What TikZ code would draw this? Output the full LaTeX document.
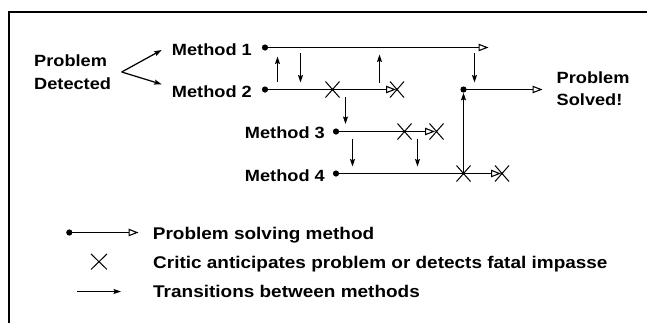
\documentclass[tikz,border=0pt]{standalone}
\usepackage{fontspec}
\setmainfont[FakeStretch=1.12]{Liberation Sans}
\usetikzlibrary{arrows.meta,shapes.misc}

\tikzset{
  lbl/.style={font=\fontsize{16.3}{22.6}\selectfont\bfseries, inner sep=0pt},
  legtxt/.style={font=\fontsize{17}{20}\selectfont\bfseries, inner sep=0pt, anchor=base west},
  methodline/.style={line width=1.4bp, -{Triangle[open, length=10bp, width=7.5bp, line width=1.1bp]}},
  trans/.style={line width=1.25bp, -{Stealth[length=7.5bp, width=5bp, inset=1.2bp]}},
  startdot/.style={circle, fill=black, inner sep=0pt, minimum size=6.2bp},
  critic/.style={cross out, draw, line width=1bp, minimum width=13bp, minimum height=15bp, inner sep=0pt},
}

\begin{document}
\begin{tikzpicture}[x=1bp, y=-1bp]
  \useasboundingbox (0,0) rectangle (647,323);

  % frame (top and left edges only)
  \coordinate (fr1) at (647,12);
  \coordinate (fr2) at (8.8,12);
  \coordinate (fr3) at (8.8,323);
  \draw[line width=2.4bp] (fr1) -- (fr2) -- (fr3);

  % starting point (base anchor sits on the last line)
  \node[lbl, anchor=base west, align=left] (detected) at (34,89.3) {Problem\\Detected};
  \coordinate (pdv) at (121.7,72);
  \coordinate (pdu) at (161.7,50);
  \coordinate (pdl) at (161.7,84.3);
  \draw[trans] (pdv) -- (pdu);
  \draw[trans] (pdv) -- (pdl);

  % method labels
  \node[lbl, anchor=base east] (lab1) at (252,55) {Method 1};
  \node[lbl, anchor=base east] (lab2) at (252,97) {Method 2};
  \node[lbl, anchor=base east] (lab3) at (325,138.5) {Method 3};
  \node[lbl, anchor=base east] (lab4) at (325,181) {Method 4};

  % method start dots
  \node[startdot] (m1s) at (265,47.5) {};
  \node[startdot] (m2s) at (265,89.5) {};
  \node[startdot] (m3s) at (336,131.5) {};
  \node[startdot] (m4s) at (336,173.5) {};
  \node[startdot] (sol) at (463.5,89.5) {};

  % method ends
  \coordinate (m1e) at (488.5,47.5);
  \coordinate (m2e) at (396,89.5);
  \coordinate (m3e) at (435,131.5);
  \coordinate (m4e) at (501,173.5);
  \coordinate (sole) at (542.5,89.5);

  \draw[methodline] (m1s.center) -- (m1e);
  \draw[methodline] (m2s.center) -- (m2e);
  \draw[methodline] (m3s.center) -- (m3e);
  \draw[methodline] (m4s.center) -- (m4e);
  \draw[methodline] (sol.center) -- (sole);

  % critic marks
  \node[critic] (c2a) at (332.5,89.5) {};
  \node[critic] (c2b) at (397,89.5) {};
  \node[critic] (c3a) at (404.5,131.5) {};
  \node[critic] (c3b) at (436.5,131.5) {};
  \node[critic] (c4a) at (463.5,173.5) {};
  \node[critic] (c4b) at (502,173.5) {};

  \node[lbl, anchor=base west, align=left] (solved) at (556.5,105.7) {Problem\\Solved!};

  % transitions between methods
  \coordinate (ta0) at (277.5,82);   \coordinate (ta1) at (277.5,56.5);
  \coordinate (tb0) at (300.5,53);   \coordinate (tb1) at (300.5,82.5);
  \coordinate (tc0) at (379.5,83);   \coordinate (tc1) at (379.5,54.5);
  \coordinate (td0) at (474.5,53);   \coordinate (td1) at (474.5,82.5);
  \coordinate (te0) at (345.5,97);   \coordinate (te1) at (345.5,124);
  \coordinate (tf0) at (352.5,138.5);\coordinate (tf1) at (352.5,166.5);
  \coordinate (tg0) at (417.5,138.5);\coordinate (tg1) at (417.5,166.5);
  \draw[trans] (ta0) -- (ta1);
  \draw[trans] (tb0) -- (tb1);
  \draw[trans] (tc0) -- (tc1);
  \draw[trans] (td0) -- (td1);
  \draw[trans] (te0) -- (te1);
  \draw[trans] (tf0) -- (tf1);
  \draw[trans] (tg0) -- (tg1);
  \draw[trans] (c4a.center) -- (sol.south);

  % legend
  \node[startdot] (kd) at (69.3,232.5) {};
  \coordinate (kde) at (138.5,232.5);
  \draw[methodline] (kd.center) -- (kde);
  \node[legtxt] (kt1) at (152.7,239) {Problem solving method};

  \node[critic, minimum width=15bp, minimum height=14.5bp] (kx) at (99,261.7) {};
  \node[legtxt] (kt2) at (153,268.3) {Critic anticipates problem or detects fatal impasse};

  \coordinate (ka0) at (77.3,291.5);
  \coordinate (ka1) at (121,291.5);
  \draw[trans] (ka0) -- (ka1);
  \node[legtxt] (kt3) at (153,297.3) {Transitions between methods};
\end{tikzpicture}
\end{document}
